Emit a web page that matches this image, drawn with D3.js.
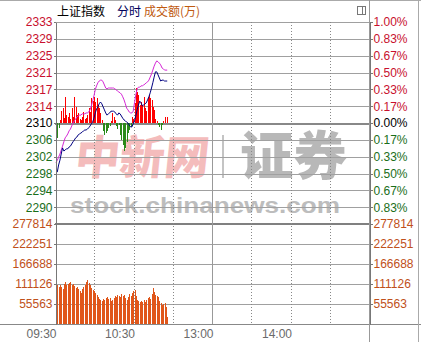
<!DOCTYPE html>
<html>
<head>
<meta charset="utf-8">
<script src="https://cdn.jsdelivr.net/npm/d3@7"></script>
<style>
body { margin: 0; background: #fff; }
svg text { font-family: "Liberation Sans", Arial, sans-serif; font-size: 12px; }
</style>
</head>
<body>
<div id="chart-area"></div>
<script>

// data (one value per minute from 09:30)
var preClose = 2310.2;

var priceLabels = ["2333","2329","2325","2321","2317","2314","2310","2306","2302","2298","2294","2290"];
var pctLabels = ["1.00%","0.83%","0.67%","0.50%","0.33%","0.17%","0.00%","0.17%","0.33%","0.50%","0.67%","0.83%"];
var volTicks = [277814, 222251, 166688, 111126, 55563];
var timeLabels = ["09:30","10:30","13:00","14:00"];
var timeMinutes = [0, 60, 120, 180];

var index = [2298.8,2299.0,2300.6,2301.7,2303.1,2304.5,2303.8,2304.0,2304.3,2304.3,
  2304.7,2304.9,2305.4,2305.9,2306.3,2306.8,2307.0,2307.5,2307.7,2307.9,
  2308.1,2308.4,2308.6,2308.6,2308.8,2309.1,2309.5,2310.0,2310.4,2311.3,
  2312.5,2313.4,2313.9,2314.6,2315.0,2314.6,2313.9,2313.2,2312.5,2312.0,
  2312.3,2312.5,2312.9,2312.9,2312.9,2312.7,2312.3,2312.0,2312.5,2312.3,
  2311.8,2311.3,2310.9,2310.7,2310.4,2310.2,2309.7,2309.3,2309.3,2310.0,
  2310.7,2311.8,2313.2,2314.3,2315.2,2314.8,2314.1,2314.3,2314.6,2314.8,
  2315.5,2316.2,2317.1,2318.2,2319.4,2320.7,2321.9,2321.9,2321.2,2320.5,
  2319.8,2320.0,2320.0,2319.8,2319.8,2319.8];

var unweighted = [2301.1,2301.7,2302.4,2303.1,2304.0,2304.9,2305.9,2306.8,2307.2,2307.7,
  2308.4,2308.8,2309.5,2310.2,2310.7,2311.1,2311.6,2311.8,2312.0,2312.0,
  2312.3,2312.3,2312.3,2312.5,2312.5,2312.7,2313.2,2314.1,2315.2,2316.4,
  2317.8,2318.7,2319.4,2319.8,2320.0,2320.0,2319.6,2318.9,2318.2,2318.0,
  2318.2,2318.2,2318.2,2318.2,2318.2,2318.0,2317.8,2317.5,2317.3,2317.1,
  2316.8,2316.2,2315.5,2314.6,2313.6,2313.2,2312.7,2312.5,2312.5,2312.9,
  2314.8,2316.6,2318.0,2318.4,2318.4,2318.7,2318.7,2318.9,2319.1,2319.4,
  2319.6,2320.0,2320.7,2321.4,2322.3,2323.2,2323.9,2324.4,2324.2,2323.9,
  2323.5,2322.8,2322.6,2322.3,2322.3,2322.3];

// buy/sell strength bars (red up, green down)
var strength = [-25,-15,-5,3,12,15,5,26,8,6,
  10,4,15,6,26,16,8,10,4,3,
  6,11,4,5,8,15,11,25,22,26,
  21,25,18,15,10,3,-8,-12,-10,-8,
  -5,-3,2,10,6,3,-3,-6,-2,-12,
  -17,-22,-28,-25,-19,-10,-7,-4,6,4,
  20,35,31,28,18,21,18,26,15,12,
  25,28,25,23,16,13,4,2,-2,-4,
  -7,-2,2,6,0,6];

var volume = [255600,108300,102800,108300,102800,97200,111100,116700,108300,111100,
  113900,116700,108300,111100,105600,100000,102800,97200,91700,86100,
  97200,102800,108300,116700,122200,113900,108300,100000,94500,91700,
  86100,80600,75000,69500,66700,63900,69500,66700,72200,75000,
  69500,72200,63900,66700,72200,77800,75000,80600,77800,75000,
  83300,77800,80600,72200,66700,75000,83300,77800,86100,91700,
  94500,77800,66700,63900,61100,63900,61100,66700,61100,66700,
  72200,75000,69500,83300,100000,88900,80600,77800,75000,63900,
  58300,52800,55600,58300,47200,19400];

// SVG drawing area
var W = 421, H = 342;
var left = 55, right = 369;
var priceTop = 22, priceBottom = 224, volBottom = 324;

var svg = d3.select("#chart-area").append("svg")
    .attr("width", W)
    .attr("height", H);

// Scales
var x = d3.scaleLinear().domain([0, 240]).range([left, right]);
var y = d3.scaleLinear().domain([preClose * 0.99, preClose * 1.01]).range([priceBottom, priceTop]);
var yStrength = d3.scaleLinear().domain([-100, 100]).range([priceBottom, priceTop]);
var yVol = d3.scaleLinear().domain([0, volTicks[0]]).range([volBottom, priceBottom]);

var levels = priceLabels.map(function(d, i) { return preClose * (1 + (6 - i) / 600); });

function labelColor(i) {
  if (i < 6) return "#c8102e";
  if (i == 6) return "#000";
  return "#1a6e1a";
}

// watermark
var wm = svg.append("g").attr("class", "watermark");
wm.append("text")
    .attr("x", 74).attr("y", 174)
    .attr("transform", "skewX(-6) translate(18,0)")
    .attr("textLength", 134)
    .attr("lengthAdjust", "spacingAndGlyphs")
    .style("font-family", "'Noto Sans CJK SC'")
    .style("font-weight", 900)
    .style("font-size", "46px")
    .attr("fill", "#f4bcbc")
    .text("中新网");
wm.append("line")
    .attr("x1", 223).attr("x2", 223).attr("y1", 135).attr("y2", 178)
    .attr("stroke", "#c4c4c4").attr("stroke-width", 2);
wm.append("text")
    .attr("x", 240).attr("y", 175)
    .attr("textLength", 107)
    .attr("lengthAdjust", "spacingAndGlyphs")
    .style("font-family", "'Noto Sans CJK SC'")
    .style("font-weight", 900)
    .style("font-size", "52px")
    .attr("fill", "#b8b8b8")
    .text("证券");
wm.append("text")
    .attr("x", 70).attr("y", 213)
    .attr("textLength", 270)
    .attr("lengthAdjust", "spacingAndGlyphs")
    .style("font-weight", "bold")
    .style("font-size", "22px")
    .attr("fill", "#bdbdbd")
    .text("stock.chinanews.com");

// grid
var grid = svg.append("g").attr("shape-rendering", "crispEdges");

grid.selectAll(".hline")
    .data(levels)
  .enter().append("line")
    .attr("x1", left).attr("x2", right)
    .attr("y1", function(d) { return Math.round(y(d)) + 0.5; })
    .attr("y2", function(d) { return Math.round(y(d)) + 0.5; })
    .attr("stroke", function(d, i) { return i == 6 ? "#888" : "#a0a0a0"; })
    .attr("stroke-width", function(d, i) { return i == 6 ? 2 : 1; });

grid.selectAll(".vline")
    .data(volTicks)
  .enter().append("line")
    .attr("x1", left).attr("x2", right)
    .attr("y1", function(d) { return Math.round(yVol(d)) + (d == volTicks[0] ? 0 : 0.5); })
    .attr("y2", function(d) { return Math.round(yVol(d)) + (d == volTicks[0] ? 0 : 0.5); })
    .attr("stroke", function(d, i) { return i == 0 ? "#808080" : "#a0a0a0"; })
    .attr("stroke-width", function(d, i) { return i == 0 ? 2 : 1; });

grid.selectAll(".tline")
    .data([30, 60, 90, 150, 180, 210])
  .enter().append("line")
    .attr("x1", function(d) { return Math.round(x(d)) + 0.5; })
    .attr("x2", function(d) { return Math.round(x(d)) + 0.5; })
    .attr("y1", priceTop).attr("y2", volBottom)
    .attr("stroke", "#888")
    .attr("stroke-dasharray", "1,2");

grid.append("line")
    .attr("x1", Math.round(x(120)) + 0.5).attr("x2", Math.round(x(120)) + 0.5)
    .attr("y1", priceTop).attr("y2", volBottom)
    .attr("stroke", "#999");

// frame
grid.append("line").attr("x1", 0).attr("x2", W).attr("y1", 0.5).attr("y2", 0.5).attr("stroke", "#aaa");
grid.append("line").attr("x1", 0).attr("x2", W).attr("y1", volBottom + 0.5).attr("y2", volBottom + 0.5).attr("stroke", "#888");
grid.append("line").attr("x1", right + 0.5).attr("x2", right + 0.5).attr("y1", 0).attr("y2", H).attr("stroke", "#999");
grid.append("line").attr("x1", 418.5).attr("x2", 418.5).attr("y1", 0).attr("y2", H).attr("stroke", "#aaa");

// strength bars
svg.append("g").attr("shape-rendering", "crispEdges").selectAll("rect")
    .data(strength)
  .enter().append("rect")
    .attr("x", function(d, i) { return Math.round(x(i)) + 1; })
    .attr("width", 1)
    .attr("y", function(d) { return Math.min(yStrength(d), yStrength(0)); })
    .attr("height", function(d) { return Math.abs(yStrength(d) - yStrength(0)); })
    .attr("fill", function(d) { return d >= 0 ? "#ff0000" : "#2a8a1a"; });

// lines
var line = d3.line()
    .x(function(d, i) { return x(i) + 1; })
    .y(function(d) { return y(d); });

svg.append("path")
    .datum(unweighted)
    .attr("d", line)
    .attr("fill", "none")
    .attr("stroke", "#d526d5")
    .attr("stroke-width", 1);

svg.append("path")
    .datum(index)
    .attr("d", line)
    .attr("fill", "none")
    .attr("stroke", "#000080")
    .attr("stroke-width", 1);

// volume bars
svg.append("g").attr("shape-rendering", "crispEdges").selectAll("rect")
    .data(volume)
  .enter().append("rect")
    .attr("x", function(d, i) { return Math.round(x(i)) + 1; })
    .attr("width", 1)
    .attr("y", function(d) { return yVol(d); })
    .attr("height", function(d) { return yVol(0) - yVol(d); })
    .attr("fill", "#e0561a");

// axes
var yAxisLeft = d3.axisLeft(y)
    .tickValues(levels)
    .tickSize(2).tickSizeOuter(0).tickPadding(1)
    .tickFormat(function(d, i) { return priceLabels[i]; });

var yAxisRight = d3.axisRight(y)
    .tickValues(levels)
    .tickSize(3).tickSizeOuter(0).tickPadding(1)
    .tickFormat(function(d, i) { return pctLabels[i]; });

var gl = svg.append("g").attr("class", "y-axis axis")
    .attr("transform", "translate(" + (left + 0.5) + ",0)")
    .call(yAxisLeft);
gl.selectAll("text").attr("fill", function(d, i) { return labelColor(i); });

var gr = svg.append("g").attr("class", "y-axis axis")
    .attr("transform", "translate(" + (right + 0.5) + ",0)")
    .call(yAxisRight);
gr.selectAll("text").attr("fill", function(d, i) { return labelColor(i); });

var volAxisLeft = d3.axisLeft(yVol)
    .tickValues(volTicks)
    .tickSize(2).tickSizeOuter(0).tickPadding(1)
    .tickFormat(d3.format("d"));
var volAxisRight = d3.axisRight(yVol)
    .tickValues(volTicks)
    .tickSize(3).tickSizeOuter(0).tickPadding(1)
    .tickFormat(d3.format("d"));

var vl = svg.append("g").attr("class", "vol-axis axis")
    .attr("transform", "translate(" + (left + 0.5) + ",0)")
    .call(volAxisLeft);
var vr = svg.append("g").attr("class", "vol-axis axis")
    .attr("transform", "translate(" + (right + 0.5) + ",0)")
    .call(volAxisRight);
vl.selectAll("text").attr("fill", "#c0501a");
vr.selectAll("text").attr("fill", "#c0501a");

svg.selectAll(".axis path").attr("stroke", "#777").attr("shape-rendering", "crispEdges");
svg.selectAll(".axis line").attr("stroke", "#777").attr("shape-rendering", "crispEdges");
svg.selectAll(".axis text").style("font-size", "12px").style("font-family", "'Liberation Sans', Arial, sans-serif");

var xAxis = d3.axisBottom(x)
    .tickValues(timeMinutes)
    .tickSize(0).tickPadding(5)
    .tickFormat(function(d, i) { return timeLabels[i]; });

var gx = svg.append("g").attr("class", "x-axis")
    .attr("transform", "translate(0," + volBottom + ")")
    .call(xAxis);
gx.select(".domain").remove();
gx.selectAll("text")
    .attr("text-anchor", "end")
    .attr("dx", 1)
    .attr("fill", "#6a6a6a")
    .style("font-size", "12px");

// header
var header = svg.append("text").attr("y", 16)
    .style("font-family", "'Noto Sans CJK SC'")
    .style("font-size", "12px");
header.append("tspan").attr("x", 57).attr("fill", "#000").text("上证指数");
header.append("tspan").attr("x", 117).attr("fill", "#00005a").text("分时");
header.append("tspan").attr("x", 144).attr("fill", "#c05a10").text("成交额(万)");

// small panel icon
svg.append("rect").attr("x", 357.5).attr("y", 6.5).attr("width", 8).attr("height", 8)
    .attr("fill", "none").attr("stroke", "#777");
svg.append("line").attr("x1", 362.5).attr("x2", 362.5).attr("y1", 6.5).attr("y2", 14.5)
    .attr("stroke", "#777");

</script>
</body>
</html>
